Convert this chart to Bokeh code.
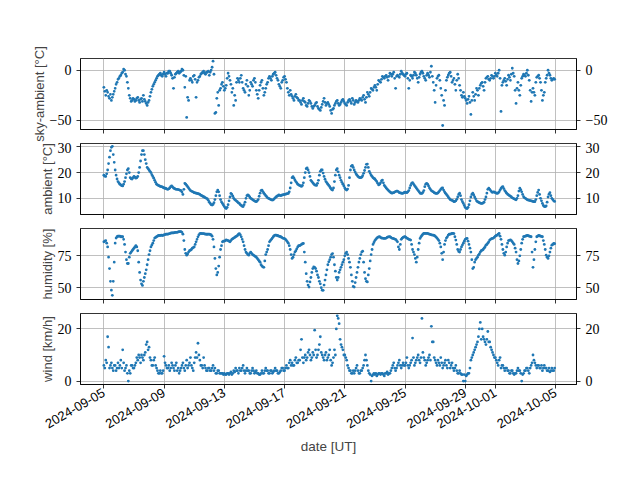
import math
import pandas as pd
from bokeh.plotting import figure
from bokeh.layouts import column
from bokeh.models import Range1d, FixedTicker, LinearAxis, DatetimeTickFormatter
from bokeh.embed import file_html
from bokeh.resources import INLINE

# ---- data (90-minute samples; one line per day) ----
times = pd.date_range("2024-09-05 00:00", periods=480, freq="90min")

sky_ambient = [
    -17, -21, -25, -20, -22, -26, -28, -24, -30, -27, -24, -21, -18, -14, -12, -9,
    -8, -6, -5, -3, -2, 1, 0, -4, -6, -12, -18, -25, -28, -31, -30, -28,
    -29, -31, -30, -28, -27, -30, -32, -29, -28, -31, -25, -29, -31, -33, -35, -32,
    -30, -26, -22, -19, -16, -14, -12, -10, -8, -6, -5, -4, -3, -5, -6, -4,
    -2, -4, -6, -3, -3, -1, -1, -3, -5, -8, -18, -7, -4, -3, -2, -1,
    -3, -2, -1, 1, 0, -5, -17, -6, -47, -27, -30, -10, -8, -10, -12, -6,
    -5, -9, -27, -12, -10, -7, -6, -4, -3, -2, -1, -3, -4, -2, -2, -1,
    -5, -2, 0, 3, 9, -4, -43, -42, -28, -22, -35, -20, -18, -14, -12, -16,
    -20, -18, -15, -8, -3, -6, -10, -14, -22, -18, -35, -25, -30, -12, -8, -10,
    -12, -8, -5, -12, -18, -20, -22, -14, -10, -16, -25, -20, -12, -14, -16, -10,
    -8, -12, -20, -24, -28, -20, -15, -12, -10, -18, -25, -22, -18, -14, -12, -8,
    -6, -8, -10, -6, -4, -3, -2, -5, -8, -10, -14, -16, -18, -12, -10, -7,
    -6, -9, -12, -18, -22, -25, -20, -24, -26, -28, -30, -26, -24, -27, -28, -30,
    -30, -32, -34, -30, -28, -31, -32, -35, -36, -33, -30, -31, -33, -36, -38, -36,
    -35, -33, -32, -36, -38, -39, -40, -37, -34, -31, -28, -32, -35, -33, -32, -34,
    -36, -40, -43, -39, -38, -35, -33, -31, -30, -33, -35, -34, -32, -30, -29, -31,
    -33, -34, -35, -32, -30, -29, -31, -33, -28, -30, -34, -32, -30, -31, -32, -30,
    -28, -29, -30, -27, -25, -29, -32, -27, -22, -24, -26, -22, -18, -19, -20, -17,
    -15, -17, -20, -14, -10, -11, -12, -9, -6, -7, -8, -6, -5, -7, -10, -6,
    -3, -4, -6, -4, -2, -8, -18, -6, -5, -6, -7, -4, -1, -3, -4, -5,
    -6, -4, -3, -8, -18, -10, -5, -6, -8, -5, -2, -3, -5, -8, -12, -7,
    -4, -2, -1, -3, -6, -8, -10, -5, -3, -5, -7, -2, 4, -6, -12, -20,
    -32, -15, -8, -6, -5, -10, -18, -25, -55, -30, -35, -20, -10, -7, -5, -3,
    -2, -6, -12, -10, -8, -14, -20, -10, -4, -8, -15, -20, -25, -27, -22, -26,
    -28, -30, -33, -29, -26, -32, -44, -30, -22, -26, -30, -24, -18, -20, -25, -18,
    -15, -13, -12, -16, -20, -12, -8, -7, -6, -9, -10, -8, -5, -6, -8, -6,
    -3, -5, -6, -3, 0, -8, -41, -15, -12, -10, -8, -11, -15, -9, -5, -7,
    -10, -4, 2, -3, -6, -20, -33, -18, -12, -20, -25, -15, -8, -6, -4, -5,
    -6, -3, 0, -5, -10, -20, -31, -22, -18, -22, -25, -12, -7, -6, -5, -8,
    -12, -20, -30, -25, -22, -12, -8, -5, 0, -3, -5, -8, -10, -9, -8, -9,
]

ambient = [
    19, 18.6, 18.5, 19.5, 21, 23.5, 26, 28.5, 29.8, 30.2, 27, 24, 21, 19, 17.5, 16.5,
    16, 15.5, 15.2, 14.9, 14.8, 15.5, 16.5, 18, 19.5, 21, 21.5, 20, 18, 17.6, 17.5, 18,
    18.5, 18.2, 17.8, 18, 18.5, 20, 22, 24.5, 27, 28.5, 28.5, 27, 25, 23.5, 22, 21.5,
    21, 20.5, 20, 19.2, 18.5, 17.8, 17, 16.2, 15.5, 15.2, 15, 14.8, 14.6, 14.5, 14.4, 14.2,
    14, 13.9, 13.8, 13.6, 13.5, 13.7, 14, 14.5, 14.8, 14.4, 14, 13.8, 13.6, 13.5, 13.5, 13.4,
    13.3, 13.1, 13, 12.4, 11.5, 13.5, 15.8, 15.5, 15, 14.5, 14, 13.5, 13, 12.8, 12.6, 12.4,
    12.2, 12.1, 12, 11.9, 11.8, 11.7, 11.5, 11.2, 11, 10.8, 10.6, 10.4, 10.2, 10, 9.8, 9.2,
    8.5, 8, 7.5, 7.4, 7.6, 8.3, 9.5, 11, 12.5, 13.2, 12.5, 11, 9.5, 8.6, 8, 7.4,
    6.8, 6.3, 6, 6.5, 7.5, 9, 10.5, 11.9, 11.5, 10.8, 10, 9.5, 9.2, 8.9, 8.6, 8.2,
    8, 7.5, 7.2, 6.9, 6.8, 7.5, 8.5, 10, 11, 11.3, 11, 10.5, 10, 9.8, 9.5, 9.2,
    9, 8.8, 8.7, 9, 9.5, 10.8, 12, 13, 13.2, 12.6, 12, 11.5, 11, 10.6, 10.2, 10,
    9.8, 9.6, 9.4, 9.3, 9.4, 9.8, 10.2, 10.5, 10.8, 11, 11.3, 11.1, 11, 11.2, 11.3, 11.4,
    11.5, 11.6, 11.7, 11.8, 11.9, 12.5, 14, 16, 18, 18.4, 17.8, 17.1, 16.5, 16, 15.5, 15.2,
    15, 14.8, 14.6, 15, 16, 18, 20, 21.5, 21.8, 21, 20, 18.5, 17, 16.5, 16, 15.6,
    15.2, 15.1, 15, 15.8, 17, 19, 20.5, 21, 21, 19.8, 18.5, 17.4, 16.5, 16, 15.5, 15,
    14.5, 13.9, 13.4, 13.2, 14, 16.5, 19, 21, 21.5, 20.3, 19, 18, 17, 16.2, 15.5, 14.8,
    14, 13.5, 13.2, 13.6, 15, 18, 21, 22.5, 22.8, 22, 21, 20.2, 19.5, 19, 18.5, 18.2,
    18, 18, 18.2, 18.8, 19.7, 20.8, 22, 23.2, 23.3, 22, 20.5, 19.7, 19, 18.5, 18, 17.7,
    17.5, 17, 16.5, 15.8, 15.2, 15.5, 16, 16.8, 17.1, 16, 15, 14.5, 14, 13.6, 13.2, 12.8,
    12.5, 12.2, 12, 12.1, 12.2, 12.4, 12.6, 12.8, 12.8, 12.5, 12.2, 12.1, 12, 11.9, 12, 12.2,
    12.4, 12.3, 12.2, 12.5, 13, 14, 15, 15.8, 16.1, 15.6, 15, 14.5, 14, 13.5, 13, 12.5,
    12, 11.9, 11.9, 12.3, 13, 14.5, 15.5, 15.8, 15.5, 14.8, 14, 13.5, 13, 12.7, 12.5, 12.2,
    12, 11.9, 11.9, 12.1, 12.5, 13, 13.5, 13.9, 14, 13.2, 12.5, 12, 11.5, 11, 10.5, 10,
    9.5, 9.3, 9.2, 9, 8.7, 8.8, 9, 9.6, 10.5, 11.5, 12, 11, 9.5, 8.7, 8, 7.2,
    6.5, 6.1, 6, 6.5, 7.5, 9, 10.5, 11.5, 12, 11.3, 10.5, 9.8, 9, 8.7, 8.5, 8.3,
    8.1, 8, 8, 8.2, 8.5, 9.5, 10.5, 12, 13.5, 13.9, 13.5, 13, 12.5, 12.3, 12.5, 12.4,
    12.2, 12, 11.9, 12.1, 12.5, 13.2, 13.8, 14.3, 14.5, 13.8, 13, 12.5, 12, 11.6, 11.3, 11,
    10.8, 10.5, 10.2, 10, 9.8, 9.6, 9.4, 10, 11, 12.8, 13.9, 13.3, 12.5, 11.5, 10.6, 10.2,
    10, 9.7, 9.4, 9.3, 9.2, 9.1, 9, 8.9, 8.8, 8.7, 8.7, 9.5, 11, 12.3, 13.2, 11.5,
    10, 9, 8, 7.2, 6.8, 6.8, 7, 8.5, 10.5, 11.6, 12.2, 11, 10, 9.5, 9, 8.8,
]

humidity = [
    86, 86.5, 87, 85, 82, 74, 65, 55, 48, 44, 55, 70, 85, 89, 90, 90.5,
    90.5, 90.5, 90, 90, 90, 88, 84, 78, 72, 69, 69, 74, 77, 78, 79, 80,
    81, 82, 83, 82, 79, 70, 62, 56, 53, 51.8, 55, 58, 61, 64, 68, 72,
    76, 79, 82, 83.5, 85, 87, 89, 89.5, 90, 90.5, 91, 91, 91, 91.3, 91, 91.2,
    91.5, 91.7, 92, 92, 92, 92.3, 92.5, 92.8, 93, 93, 93, 93.2, 93.5, 93.5, 93.5, 93.8,
    94, 94, 94, 93.5, 92, 87, 80, 77, 75.5, 76.5, 78, 79, 79.5, 80, 81, 81.5,
    82, 84, 86, 88, 90, 91.5, 92.5, 92.6, 92.5, 92.5, 92.5, 92.2, 92, 92, 92, 92,
    92, 91.8, 91.5, 90.5, 88, 82, 73, 65, 60, 62, 67, 74, 80, 83, 86, 86.5,
    86.5, 87, 87.5, 87.2, 87, 86.5, 86, 87, 88, 88.5, 89, 89.5, 90, 90.5, 91, 92,
    92.5, 91.5, 90, 88, 86, 83, 80, 78, 77, 76, 75.5, 77, 78, 77, 76, 75.5,
    75, 74.5, 74, 73, 72, 71, 70, 68, 67, 66.3, 66, 71, 76, 78, 80, 83,
    86, 87, 88, 89, 90, 90.8, 91.3, 91.3, 91, 90.8, 90.5, 90.2, 90, 89.5, 89, 88.8,
    88.5, 88, 87, 86, 85, 83, 80, 76, 73, 74, 76, 78, 79, 80.5, 82, 83,
    83, 83.5, 84, 84.5, 84.7, 78, 70, 61, 55, 52, 50.5, 54.5, 58, 62, 65, 66.3,
    66, 65, 63, 60, 58, 55, 53, 50, 48, 47.9, 52, 56, 60, 64, 68, 70.3,
    72, 74, 76, 76.8, 74, 68, 63, 58, 56, 58, 62, 64, 66, 68, 70, 72,
    75, 77, 78, 76, 73, 70, 66, 60, 55, 51, 50.5, 54, 58, 62, 66, 70,
    73, 76, 78, 78.7, 70, 62, 57, 55, 54.5, 60, 65, 71, 76, 80, 84, 85.5,
    87, 88, 89, 89.5, 90, 90, 89.5, 89, 89, 88.8, 88.7, 88.8, 89, 89.5, 90, 90,
    90, 89.5, 89, 88.8, 88.5, 88.2, 88, 87, 86, 82, 80, 84, 88, 89, 89.5, 90,
    90, 89.5, 89, 88.5, 88, 87.8, 87.4, 84, 80, 78, 76, 73, 70, 74, 80, 85,
    88.7, 90, 91, 92, 92.6, 92.6, 92.6, 92.6, 92.6, 92.3, 92, 91.8, 91.5, 91.3, 91.3, 91,
    90.5, 89.8, 89, 88, 87, 85, 82, 77, 72, 78, 84, 87, 89, 90, 91.3, 92,
    92, 92.3, 92.6, 92.6, 92.5, 90, 87.4, 84, 80, 78.5, 78, 80, 82, 83.5, 85, 86.5,
    88, 88.5, 88.7, 86.5, 84, 81, 78, 72, 65, 66, 70, 72, 73, 74, 75.5, 76.5,
    78, 79, 79.5, 80, 81, 82, 83.4, 84, 85, 86, 87.4, 88, 88.5, 88.8, 89, 89.8,
    90.5, 91, 91.3, 92, 92.6, 90.5, 88, 84, 80, 77, 75.5, 78, 82, 85, 87, 87.2,
    87.5, 87, 86, 85, 84, 81, 78, 72, 69, 71, 75, 80, 85, 88, 90, 90.3,
    90.5, 90.8, 91, 90.8, 90.5, 90.3, 90, 78, 66, 72, 80, 86, 90, 90.5, 91, 90.8,
    90.5, 90.3, 90, 87, 84, 80, 75.5, 74, 73, 75, 78, 81, 83.4, 84, 84.7, 84.5,
]

wind = [
    6, 5, 8, 7, 17, 13, 5, 6, 7, 5, 4, 6, 6, 4, 5, 7,
    5, 6, 8, 5, 12, 7, 4, 5, 6, 3, 0, 4, 3, 6, 6, 5,
    5, 6, 7, 9, 8, 10, 9, 7, 10, 9, 8, 10, 11, 14, 15, 12,
    13, 9, 8, 6, 6, 8, 9, 6, 5, 4, 3, 3, 4, 3, 3, 4,
    9.5, 7, 6, 5, 5, 6, 4, 5, 7, 6, 5, 4, 6, 7, 4, 5,
    3, 4, 5, 6, 7, 5, 4, 6, 8, 5, 6, 7, 9, 6, 5, 4,
    7, 9, 11, 9, 14.5, 10, 8, 6, 6, 5, 9, 6, 5, 4, 4, 5,
    5, 4, 4, 5, 6, 4, 5, 3, 3, 4, 4, 3, 3, 3, 3, 2.5,
    3, 2.5, 2.5, 3, 3, 2.5, 3, 3.5, 2.5, 3, 4, 3.5, 5, 4, 4, 3,
    5, 4, 4, 5, 6, 4, 3, 4, 5, 4, 4, 3, 3, 4, 5, 4,
    3, 3.5, 4, 3, 3, 2.5, 2.5, 3, 4, 3, 3, 4, 5, 4, 4, 3,
    3, 4, 4, 3, 3.5, 4, 5, 4, 4, 3, 3, 3.5, 4, 5, 5, 4,
    4, 5, 6, 5, 5, 7, 8, 6, 7, 6, 6, 8, 9, 7, 7, 8,
    8, 12, 16, 9, 7, 9, 10, 8, 9, 11, 12, 10, 8, 9, 11, 10,
    19.5, 12, 9, 10, 12, 14, 17, 11, 10, 9, 8, 10, 11, 8, 9, 10,
    12, 8, 6, 7, 9, 12, 10, 20, 25, 24, 22, 16, 14, 13, 12, 10,
    10, 9, 8, 6, 5, 4, 4, 3, 3, 4, 3, 4, 5, 6, 4, 3,
    3, 4, 4, 5, 6, 8, 10, 8, 6, 4, 3, 2.5, 0, 2, 2.5, 3,
    2.5, 3, 2, 2.5, 3, 3, 2.5, 3, 3, 2.5, 2, 3, 3, 3.5, 2.5, 3,
    3, 4, 5, 6, 7, 5, 4, 5, 6, 7, 8, 6, 5, 6, 7, 6,
    6, 7, 9, 6, 5, 6, 7, 8, 16.5, 9, 6, 7, 8, 9, 10, 8,
    7, 9, 24, 11, 9, 8, 6, 7, 8, 9, 10, 8, 21, 15, 15, 9,
    8, 7, 6, 8, 7, 6, 9, 7, 5, 6, 7, 8, 6, 5, 8, 7,
    5, 6, 7, 5, 4, 5, 6, 4, 3, 3, 4, 3, 2.5, 2.5, 0, 2.5,
    0, 2, 2.5, 3, 3, 5, 8, 9, 10, 11, 12, 13, 14, 15, 17, 20,
    22.5, 16, 20, 17, 16, 15, 14, 16, 19, 15, 15, 13, 12, 11, 10, 9,
    9, 8, 7, 6, 8, 9, 5, 6, 6, 5, 4, 5, 5, 4, 4, 3,
    3, 4, 4, 3, 2.5, 3, 3, 4, 5, 4, 4, 3, 0, 2.5, 3, 4,
    4, 5, 5, 4, 3, 5, 6, 7, 10, 8, 7, 6, 5, 6, 6, 5,
    5, 6, 4, 5, 6, 5, 5, 4, 4, 5, 3.5, 4, 5, 4, 4, 5,
]

date_ticks = ["2024-09-05", "2024-09-09", "2024-09-13", "2024-09-17",
              "2024-09-21", "2024-09-25", "2024-09-29", "2024-10-01", "2024-10-05"]

panels = [
    ("sky-ambient [°C]", sky_ambient, (-59, 11.7), [-50, 0]),
    ("ambient [°C]", ambient, (3.7, 31.3), [10, 20, 30]),
    ("humidity [%]", humidity, (40.7, 96.5), [50, 75]),
    ("wind [km/h]", wind, (-1.3, 25.9), [0, 20]),
]

# ---- styling ----
BLUE = "#1f77b4"
SANS = "Liberation Sans"
SERIF = "Liberation Serif"

x_ticks_ms = [pd.Timestamp(d).value // 10**6 for d in date_ticks]
x_range = Range1d(start=pd.Timestamp("2024-09-03 10:45"), end=pd.Timestamp("2024-10-06 09:20"))

FRAME_H = 71
borders = [(58, 13), (1, 10), (4, 10), (4, 88)]


def style_axis(ax):
    ax.axis_line_color = "black"
    ax.axis_line_width = 0.8
    ax.major_tick_line_color = "black"
    ax.major_tick_line_width = 0.8
    ax.major_tick_out = 4
    ax.major_tick_in = 0
    ax.minor_tick_line_color = None
    ax.major_label_text_color = "black"


def minus(v):
    return str(v).replace("-", "\u2212")


figs = []
for i, (label, vals, yr, yt) in enumerate(panels):
    top, bottom = borders[i]
    p = figure(width=632, height=top + FRAME_H + bottom,
               x_axis_type="datetime", x_range=x_range,
               y_range=Range1d(*yr),
               output_backend="svg", toolbar_location=None,
               min_border_left=80, min_border_right=56,
               min_border_top=top, min_border_bottom=bottom)
    p.outline_line_color = "black"
    p.outline_line_width = 0.8
    p.background_fill_color = "white"
    p.border_fill_color = "white"

    p.scatter(times, vals, size=2.8, fill_color=BLUE, line_color=None)

    yticker = FixedTicker(ticks=yt)
    xticker = FixedTicker(ticks=x_ticks_ms)
    overrides = {v: minus(v) for v in yt}

    p.yaxis.ticker = yticker
    p.yaxis.major_label_overrides = overrides
    p.yaxis.axis_label = label
    p.yaxis.axis_label_text_font = SANS
    p.yaxis.axis_label_text_font_size = "13px"
    p.yaxis.axis_label_text_font_style = "normal"
    p.yaxis.axis_label_standoff = 0
    p.yaxis.major_label_text_font = SERIF
    p.yaxis.major_label_text_font_size = "14px"
    p.yaxis.major_label_standoff = 5
    style_axis(p.yaxis[0])

    ry = LinearAxis(ticker=yticker, major_label_overrides=overrides)
    ry.major_label_text_font = SERIF
    ry.major_label_text_font_size = "14px"
    ry.major_label_standoff = 5
    style_axis(ry)
    p.add_layout(ry, "right")

    p.xaxis.ticker = xticker
    p.xaxis.formatter = DatetimeTickFormatter(days="%Y-%m-%d", months="%Y-%m-%d",
                                              hours="%Y-%m-%d", years="%Y-%m-%d")
    style_axis(p.xaxis[0])
    if i < 3:
        p.xaxis.major_label_overrides = {t: "" for t in x_ticks_ms}
        p.xaxis.major_label_text_font_size = "1px"
        p.xaxis.major_label_standoff = 0
    else:
        p.xaxis.major_label_text_font = SANS
        p.xaxis.major_label_text_font_size = "13px"
        p.xaxis.major_label_orientation = math.pi / 6
        p.xaxis.major_label_standoff = 3
        p.xaxis.axis_label = "date [UT]"
        p.xaxis.axis_label_text_font = SANS
        p.xaxis.axis_label_text_font_size = "13.5px"
        p.xaxis.axis_label_text_font_style = "normal"
        p.xaxis.axis_label_standoff = 3

    p.xgrid.ticker = xticker
    p.ygrid.ticker = yticker
    for g in (p.xgrid[0], p.ygrid[0]):
        g.grid_line_color = "#b0b0b0"
        g.grid_line_width = 0.8
    figs.append(p)

layout = column(*figs, spacing=0)
open("out.html", "w").write(file_html(layout, INLINE))
